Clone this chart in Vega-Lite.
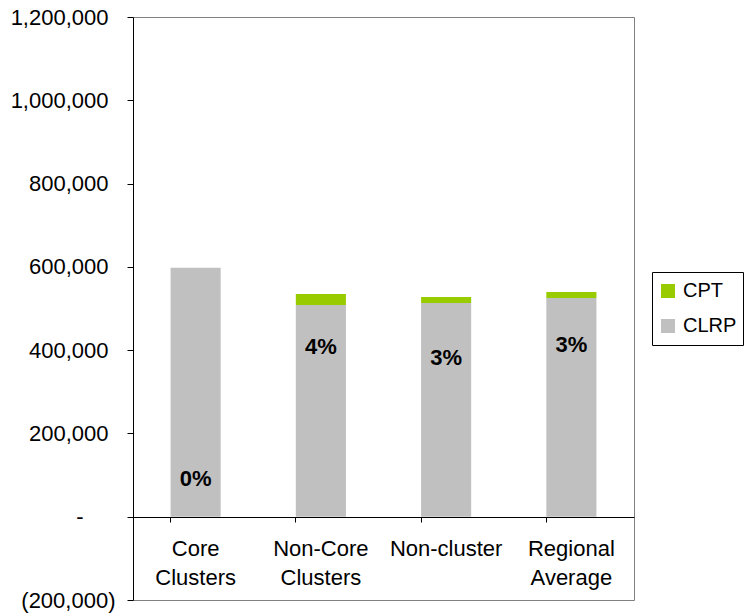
{
  "$schema": "https://vega.github.io/schema/vega-lite/v6.json",
  "width": 501,
  "height": 583,
  "autosize": {"type": "none"},
  "padding": {"left": 133, "top": 17, "right": 111, "bottom": 15},
  "background": "white",
  "config": {
    "font": "Liberation Sans",
    "view": {"stroke": "#808080", "strokeWidth": 1}
  },
  "datasets": {
    "bars": [
      {"category": "Core Clusters", "series": "CLRP", "value": 598000},
      {"category": "Core Clusters", "series": "CPT", "value": 0},
      {"category": "Non-Core Clusters", "series": "CLRP", "value": 508500},
      {"category": "Non-Core Clusters", "series": "CPT", "value": 26500},
      {"category": "Non-cluster", "series": "CLRP", "value": 513200},
      {"category": "Non-cluster", "series": "CPT", "value": 14500},
      {"category": "Regional Average", "series": "CLRP", "value": 525300},
      {"category": "Regional Average", "series": "CPT", "value": 14500}
    ],
    "labels": [
      {"category": "Core Clusters", "pct": "0%", "pos": 91600},
      {"category": "Non-Core Clusters", "pct": "4%", "pos": 408000},
      {"category": "Non-cluster", "pct": "3%", "pos": 380700},
      {"category": "Regional Average", "pct": "3%", "pos": 412000}
    ]
  },
  "layer": [
    {
      "data": {"name": "bars"},
      "mark": {"type": "bar"},
      "encoding": {
        "x": {
          "field": "category",
          "type": "nominal",
          "sort": null,
          "scale": {"paddingInner": 0.6, "paddingOuter": 0.3},
          "axis": {
            "title": null,
            "orient": "bottom",
            "offset": -83,
            "bandPosition": 0,
            "domainColor": "black",
            "tickColor": "black",
            "tickSize": 5,
            "labelAngle": 0,
            "labelFontSize": 22,
            "labelColor": "black",
            "labelPadding": 16,
            "labelLineHeight": 29,
            "labelExpr": "datum.value == 'Non-cluster' ? datum.value : split(datum.value, ' ')"
          }
        },
        "y": {
          "field": "value",
          "type": "quantitative",
          "stack": "zero",
          "scale": {"domain": [-200000, 1200000], "nice": false, "zero": false},
          "axis": {
            "title": null,
            "values": [-200000, 0, 200000, 400000, 600000, 800000, 1000000, 1200000],
            "grid": false,
            "domainColor": "black",
            "tickColor": "black",
            "tickSize": 6,
            "labelFontSize": 22,
            "labelColor": "black",
            "labelPadding": {
              "condition": [
                {"test": "datum.value < 0", "value": 12},
                {"test": "datum.value == 0", "value": 44}
              ],
              "value": 19
            },
            "labelExpr": "datum.value == 0 ? '-' : datum.value < 0 ? '(' + format(-datum.value, ',') + ')' : format(datum.value, ',')"
          }
        },
        "color": {
          "field": "series",
          "type": "nominal",
          "scale": {"domain": ["CPT", "CLRP"], "range": ["#99CC00", "#C0C0C0"]},
          "legend": {
            "title": null,
            "orient": "none",
            "legendX": 519,
            "legendY": 255,
            "strokeColor": "black",
            "padding": 6,
            "symbolType": "square",
            "symbolSize": 196,
            "symbolStrokeWidth": 0,
            "labelFontSize": 20,
            "labelColor": "black",
            "labelOffset": 5,
            "clipHeight": 26,
            "rowPadding": 9
          }
        },
        "order": {"field": "series", "sort": "ascending"}
      }
    },
    {
      "data": {"name": "labels"},
      "mark": {"type": "text", "fontSize": 22, "fontWeight": "bold", "color": "black", "baseline": "middle", "align": "center"},
      "encoding": {
        "x": {"field": "category", "type": "nominal", "sort": null},
        "y": {"field": "pos", "type": "quantitative"},
        "text": {"field": "pct"}
      }
    }
  ]
}
